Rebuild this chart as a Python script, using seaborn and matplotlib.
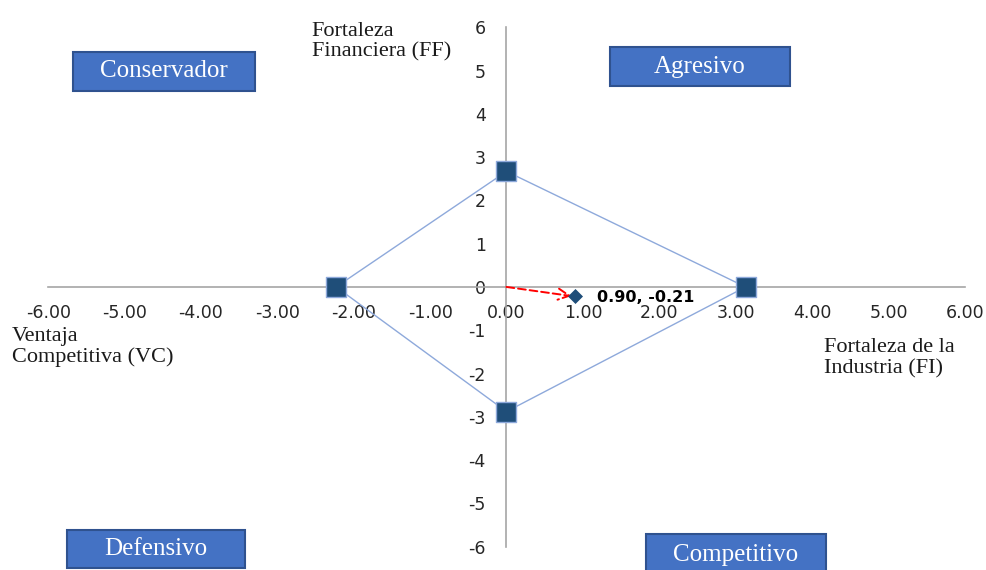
import matplotlib
matplotlib.use('Agg')
import matplotlib.pyplot as plt
from matplotlib.patches import Rectangle
import seaborn as sns
import pandas as pd

# SPACE matrix values
ejes = ['FF', 'FI', 'CA', 'VC']
valores_x = [0.00, 3.13, 0.00, -2.23]
valores_y = [2.67, 0.00, -2.88, 0.00]
resultado_x = 0.90
resultado_y = -0.21

x_ticks = [-6, -5, -4, -3, -2, -1, 0, 1, 2, 3, 4, 5, 6]
y_ticks = [-6, -5, -4, -3, -2, -1, 0, 1, 2, 3, 4, 5, 6]

cuadrantes = ['Conservador', 'Agresivo', 'Defensivo', 'Competitivo']

df = pd.DataFrame({'eje': ejes, 'x': valores_x, 'y': valores_y})
df_cerrado = pd.concat([df, df.iloc[[0]]]).reset_index(drop=True)  # close polygon

sns.set_style('white')
plt.rcParams['font.family'] = ['DejaVu Sans']

fig = plt.figure(figsize=(9.87, 5.70), dpi=100)
ax = fig.add_axes([0, 0, 1, 1])

sns.lineplot(data=df_cerrado, x='x', y='y', sort=False, estimator=None,
             color='#8EA9DB', linewidth=1.0, ax=ax, zorder=2)
sns.scatterplot(data=df, x='x', y='y', marker='s', s=190, color='#1F4E79',
                edgecolor='#8EA9DB', linewidth=1.0, ax=ax, zorder=3)
sns.scatterplot(x=[resultado_x], y=[resultado_y], marker='D', s=50,
                color='#1F4E79', edgecolor='#1F4E79', ax=ax, zorder=4)

# red dashed arrow from origin to the result
ax.annotate('', xy=(resultado_x - 0.05, resultado_y), xytext=(0, 0),
            arrowprops=dict(arrowstyle='->,head_length=0.8,head_width=0.4',
                            color='#FF0000', linestyle=(0, (4, 2)), lw=1.4,
                            shrinkA=0, shrinkB=0), zorder=3)
ax.annotate(f'{resultado_x:.2f}, {resultado_y:.2f}', xy=(resultado_x, resultado_y),
            xytext=(16, -1), textcoords='offset points', ha='left', va='center',
            fontsize=11.5, fontweight='bold', color='black')

ax.set_xlim(-6.63, 6.29)
ax.set_ylim(-6.54, 6.63)

# axes crossing at the origin
for s in ['top', 'right']:
    ax.spines[s].set_visible(False)
ax.spines['left'].set_position('zero')
ax.spines['bottom'].set_position('zero')
ax.spines['left'].set_bounds(-6, 6)
ax.spines['bottom'].set_bounds(-6, 6)
for s in ['left', 'bottom']:
    ax.spines[s].set_color('#A6A6A6')
    ax.spines[s].set_linewidth(1.2)
    ax.spines[s].set_zorder(1)

ax.set_xticks(x_ticks)
ax.set_xticklabels([f'{t:.2f}' for t in x_ticks])
ax.set_yticks(y_ticks)
ax.set_yticklabels([str(t) for t in y_ticks])
ax.tick_params(axis='x', length=0, pad=12, labelsize=12.5, labelcolor='#262626')
ax.tick_params(axis='y', length=0, pad=15, labelsize=12.5, labelcolor='#262626')
ax.set_xlabel('')
ax.set_ylabel('')

serif = ['Liberation Serif', 'DejaVu Serif']
ax.text(-2.55, 6.12, 'Fortaleza\nFinanciera (FF)', ha='left', va='top',
        fontsize=16, family=serif, linespacing=1.1, color='#1a1a1a')
ax.text(-6.47, -0.92, 'Ventaja\nCompetitiva (VC)', ha='left', va='top',
        fontsize=16, family=serif, linespacing=1.1, color='#1a1a1a')
ax.text(4.15, -1.19, 'Fortaleza de la\nIndustria (FI)', ha='left', va='top',
        fontsize=16, family=serif, linespacing=1.1, color='#1a1a1a')

# quadrant boxes (x0, x1, y0, y1) and text centres
cajas = [(-5.67, -3.29, 4.53, 5.43), (1.35, 3.71, 4.64, 5.54),
         (-5.75, -3.42, -6.49, -5.61), (1.83, 4.18, -6.9, -5.70)]
centros_y = [4.98, 5.09, -6.05, -6.19]
for nombre, (x0, x1, y0, y1), cy in zip(cuadrantes, cajas, centros_y):
    ax.add_patch(Rectangle((x0, y0), x1 - x0, y1 - y0, facecolor='#4472C4',
                           edgecolor='#2F528F', linewidth=1.5, zorder=5,
                           clip_on=False))
    ax.text((x0 + x1) / 2, cy, nombre, ha='center', va='center', color='white',
            fontsize=18, family=serif, zorder=6)

fig.savefig('out.png', dpi=100)
